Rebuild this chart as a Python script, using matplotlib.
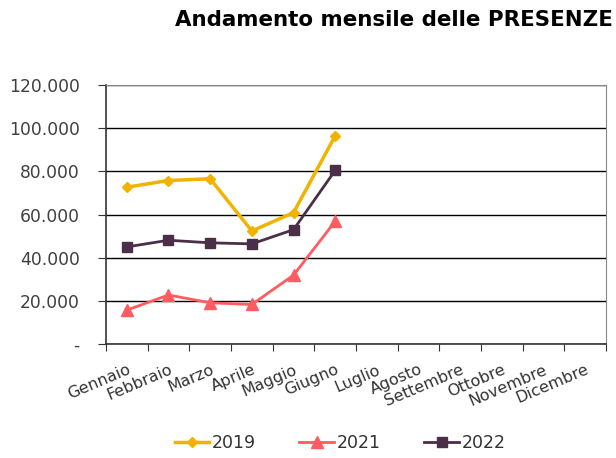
import matplotlib
import matplotlib.pyplot as plt
from matplotlib.ticker import FuncFormatter

matplotlib.use('Agg')

plt.rcParams['font.family'] = ['DejaVu Sans']

# Dati
mesi = ['Gennaio', 'Febbraio', 'Marzo', 'Aprile', 'Maggio', 'Giugno', 'Luglio',
        'Agosto', 'Settembre', 'Ottobre', 'Novembre', 'Dicembre']
presenze_2019 = [72700, 75800, 76600, 52400, 60900, 96500]
presenze_2021 = [15700, 22700, 19100, 18300, 31900, 56900]
presenze_2022 = [45000, 48100, 46900, 46400, 53000, 80500]

col_2019 = '#F2B300'
col_2021 = '#FF5B61'
col_2022 = '#4B2E48'

fig = plt.figure(figsize=(6.16, 4.58), dpi=100)
ax = fig.add_axes([0.172, 0.249, 0.812, 0.565])

x = list(range(len(mesi)))
n = len(presenze_2019)
ax.plot(x[:n], presenze_2019, color=col_2019, lw=2.5, marker='D', ms=5, label='2019')
ax.plot(x[:n], presenze_2021, color=col_2021, lw=2, marker='^', ms=8, label='2021')
ax.plot(x[:n], presenze_2022, color=col_2022, lw=2, marker='s', ms=7, label='2022')

ax.set_xlim(-0.5, len(mesi) - 0.5)
ax.set_ylim(0, 120000)
ax.set_yticks(range(0, 120001, 20000))


def fmt(v, pos):
    if v == 0:
        return '-'
    return f'{int(v):,}'.replace(',', '.')


ax.yaxis.set_major_formatter(FuncFormatter(fmt))
ax.yaxis.grid(True, color='black', lw=1)
ax.set_axisbelow(True)

# tick delle categorie sui bordi
ax.set_xticks([i - 0.5 for i in range(len(mesi) + 1)], minor=False)
ax.set_xticklabels([])
ax.set_xticks(x, minor=True)
ax.set_xticklabels(mesi, minor=True, rotation=23, ha='right', rotation_mode='anchor',
                   fontsize=11.5, color='#333333')
ax.tick_params(axis='x', which='minor', length=0, pad=13)
ax.tick_params(axis='x', which='major', length=5, color='#333333', direction='out')
ax.tick_params(axis='y', length=6, color='#333333', labelsize=12.3, labelcolor='#404040', pad=13)

for s in ['top', 'right']:
    ax.spines[s].set_color('#888888')
for s in ['left', 'bottom']:
    ax.spines[s].set_color('#333333')
    ax.spines[s].set_linewidth(1.2)

fig.text(0.995, 0.957, 'Andamento mensile delle PRESENZE', ha='right', va='center',
         fontsize=15.4, fontweight='bold', color='black')

fig.legend(loc='center', bbox_to_anchor=(0.552, 0.033), ncol=3, frameon=False,
           fontsize=12.5, handlelength=2.0, columnspacing=2.5, handletextpad=0.15,
           labelcolor='#333333')

fig.savefig('out.png', dpi=100)
